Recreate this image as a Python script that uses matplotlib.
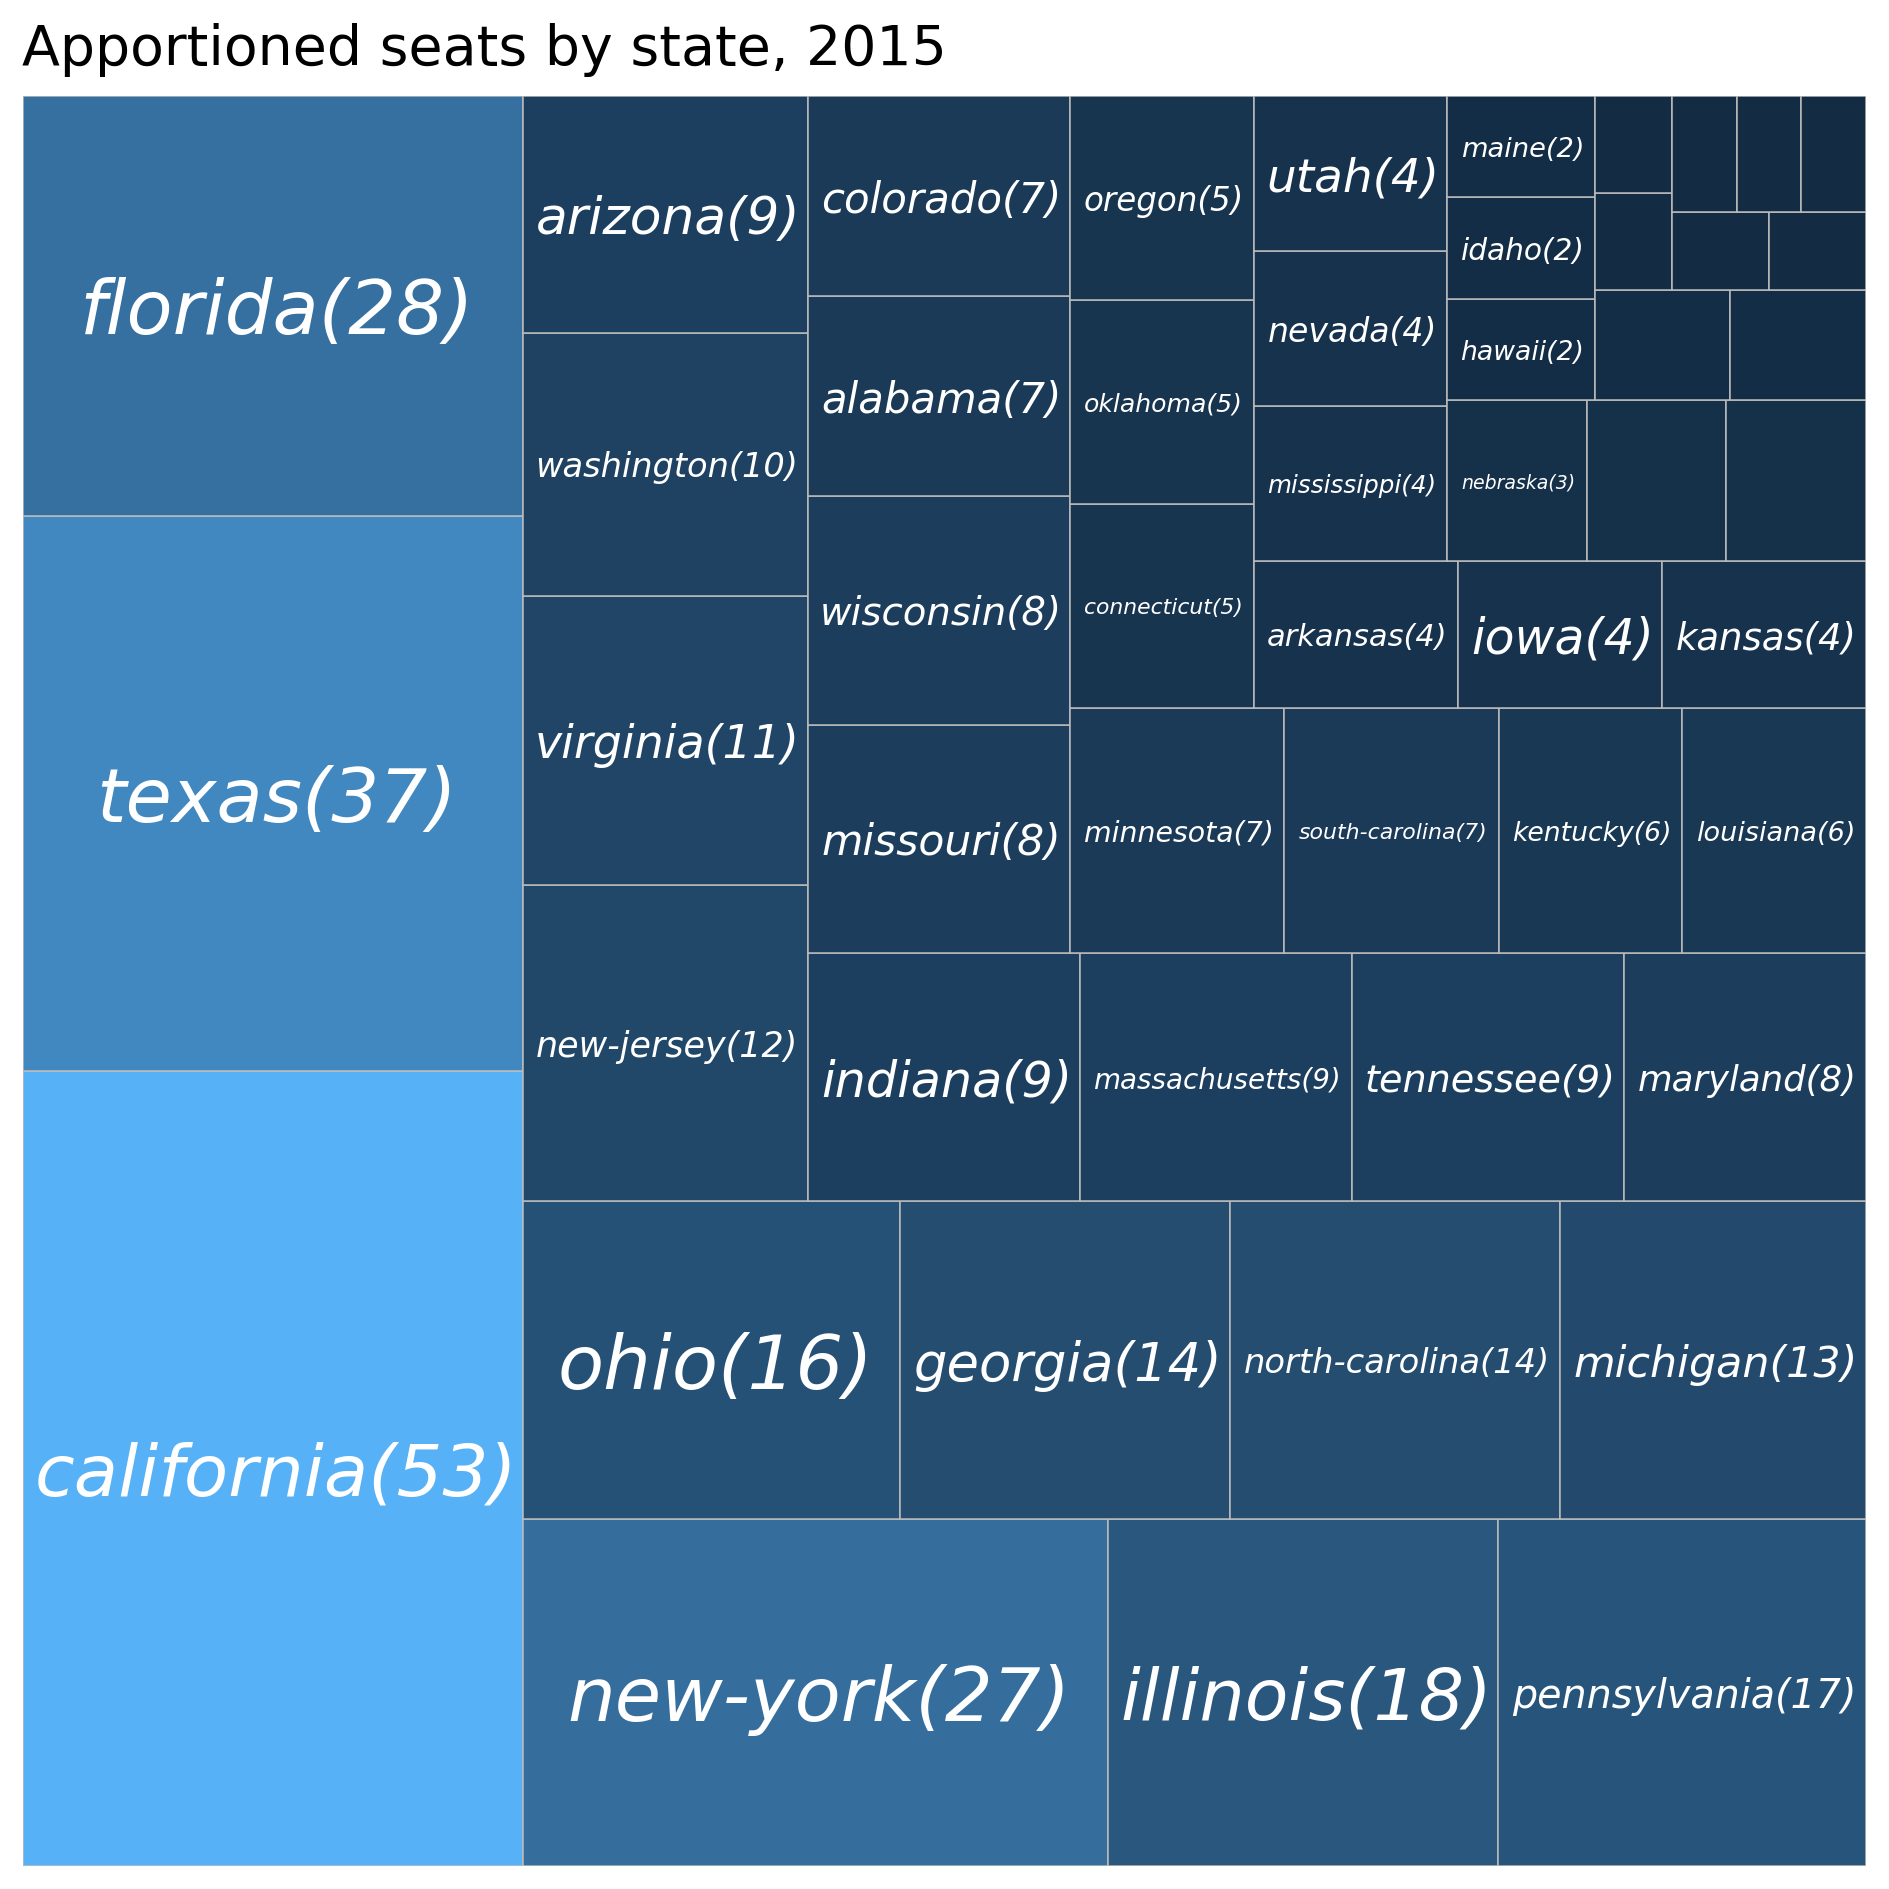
import matplotlib
matplotlib.use("Agg")
import matplotlib.pyplot as plt
from matplotlib.patches import Rectangle
from matplotlib.colors import LinearSegmentedColormap, Normalize
from matplotlib.textpath import TextPath
from matplotlib.font_manager import FontProperties
from matplotlib.transforms import ScaledTranslation

# ---------------- data ----------------
states = [
    "california", "texas", "florida", "new-york", "illinois", "pennsylvania",
    "ohio", "georgia", "north-carolina", "michigan", "new-jersey", "virginia",
    "washington", "arizona", "indiana", "massachusetts", "tennessee",
    "maryland", "missouri", "wisconsin", "alabama", "colorado", "minnesota",
    "south-carolina", "kentucky", "louisiana", "connecticut", "oklahoma",
    "oregon", "arkansas", "iowa", "kansas", "mississippi", "nevada", "utah",
    "nebraska", "new-mexico", "west-virginia", "hawaii", "idaho", "maine",
    "new-hampshire", "rhode-island", "alaska", "delaware", "montana",
    "north-dakota", "south-dakota", "vermont", "wyoming",
]
seats = [
    53, 37, 28, 27, 18, 17,
    16, 14, 14, 13, 12, 11,
    10, 9, 9, 9, 9,
    8, 8, 8, 7, 7, 7,
    7, 6, 6, 5, 5,
    5, 4, 4, 4, 4, 4, 4,
    3, 3, 3, 2, 2, 2,
    2, 2, 1, 1, 1,
    1, 1, 1, 1,
]
title = "Apportioned seats by state, 2015"


# ---------------- squarify layout ----------------
def normalize_sizes(sizes, dx, dy):
    total = sum(sizes)
    return [s * dx * dy / total for s in sizes]


def layoutrow(sizes, x, y, dx, dy):
    width = sum(sizes) / dy
    rects = []
    for s in sizes:
        rects.append((x, y, width, s / width))
        y += s / width
    return rects


def layoutcol(sizes, x, y, dx, dy):
    height = sum(sizes) / dx
    rects = []
    for s in sizes:
        rects.append((x, y, s / height, height))
        x += s / height
    return rects


def layout(sizes, x, y, dx, dy):
    return layoutrow(sizes, x, y, dx, dy) if dx >= dy else layoutcol(sizes, x, y, dx, dy)


def leftover(sizes, x, y, dx, dy):
    if dx >= dy:
        w = sum(sizes) / dy
        return x + w, y, dx - w, dy
    h = sum(sizes) / dx
    return x, y + h, dx, dy - h


def worst_ratio(sizes, x, y, dx, dy):
    return max(max(r[2] / r[3], r[3] / r[2]) for r in layout(sizes, x, y, dx, dy))


def squarify(sizes, x, y, dx, dy):
    if len(sizes) == 0:
        return []
    if len(sizes) == 1:
        return layout(sizes, x, y, dx, dy)
    i = 1
    while i < len(sizes) and worst_ratio(sizes[:i], x, y, dx, dy) >= worst_ratio(sizes[:i + 1], x, y, dx, dy):
        i += 1
    cur, rem = sizes[:i], sizes[i:]
    lx, ly, ldx, ldy = leftover(cur, x, y, dx, dy)
    return layout(cur, x, y, dx, dy) + squarify(rem, lx, ly, ldx, ldy)


NX, NY = 100.0, 100.0
rects = squarify(normalize_sizes(seats, NX, NY), 0.0, 0.0, NX, NY)

# ---------------- figure ----------------
W, H, DPI = 1889, 1889, 100
fig = plt.figure(figsize=(W / DPI, H / DPI), dpi=DPI)
ax_l, ax_r, ax_t, ax_b = 22.5, 1866.0, 96.0, 1865.5
ax = fig.add_axes([ax_l / W, 1 - ax_b / H, (ax_r - ax_l) / W, (ax_b - ax_t) / H])
ax.set_xlim(0, NX)
ax.set_ylim(0, NY)
ax.axis("off")

cmap = LinearSegmentedColormap.from_list("gg", ["#132B43", "#56B1F7"])
norm = Normalize(vmin=min(seats), vmax=max(seats))

for (x, y, dx, dy), v in zip(rects, seats):
    ax.add_patch(Rectangle((x, y), dx, dy, facecolor=cmap(norm(v)),
                           edgecolor="#bcbcbc", linewidth=1.1))

fig.text(ax_l / W, 1 - 65 / H, title, fontsize=39.9, ha="left",
         va="baseline", color="black")

# ---------------- labels ----------------
ax_wpx = ax_r - ax_l
cap_pt = 54.3
min_pt = 17.5 * 72 / DPI
pad_px = 28.0
fp = FontProperties(family="DejaVu Sans", style="italic")
for (x, y, dx, dy), name, v in zip(rects, states, seats):
    label = f"{name}({v})"
    ink_px10 = TextPath((0, 0), label, size=10, prop=fp).get_extents().width * DPI / 72
    box_px = dx / NX * ax_wpx
    fs = min(10 * (box_px - pad_px) / ink_px10, cap_pt)
    if fs < min_pt:
        continue
    off = ScaledTranslation(0.055 * fs / 72, 0, fig.dpi_scale_trans)
    ax.text(x + dx / 2, y + dy / 2, label, fontsize=fs,
            style="italic", color="white", ha="center", va="center_baseline",
            transform=ax.transData + off)

fig.savefig("out.png", dpi=DPI)
